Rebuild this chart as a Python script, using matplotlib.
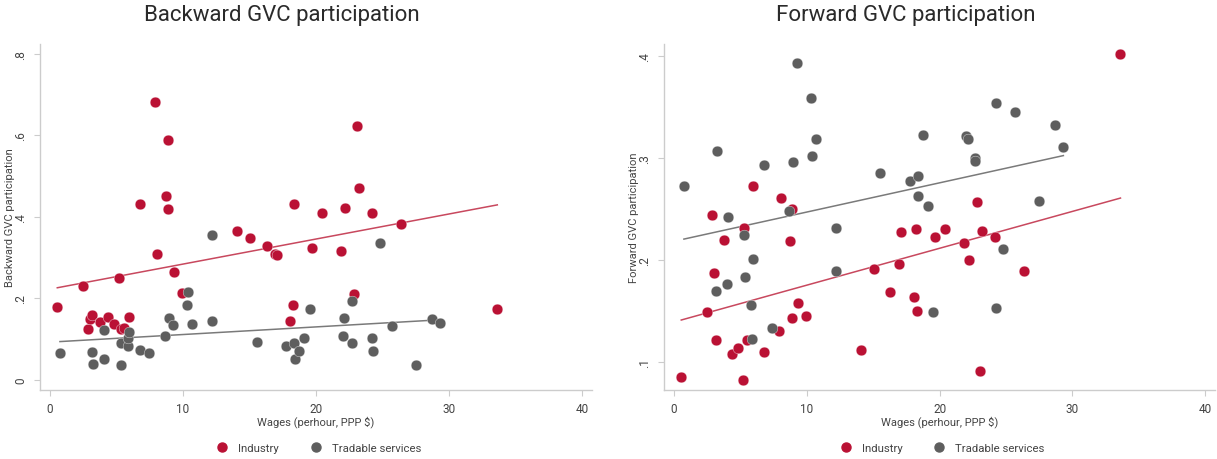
import numpy as np
import matplotlib
matplotlib.use("Agg")
import matplotlib.pyplot as plt
from matplotlib.lines import Line2D

plt.rcParams['font.family'] = ['Roboto', 'DejaVu Sans']

# wages (per hour, PPP $) - same countries in both panels
wage_ind = [0.55, 2.46, 2.88, 3.01, 3.15, 3.74, 4.38, 4.79, 5.19, 5.31, 5.53, 5.96, 6.77,
            7.9, 8.06, 8.75, 8.9, 8.9, 9.33, 9.96, 14.07, 15.04, 16.3, 16.93, 17.1, 18.08,
            18.24, 18.33, 19.68, 20.44, 21.87, 22.21, 22.85, 23.05, 23.2, 24.2, 26.39, 33.63]
wage_srv = [0.75, 3.18, 3.21, 4.03, 4.06, 5.31, 5.32, 5.83, 5.87, 5.92, 6.77, 7.42, 8.68,
            8.95, 9.27, 10.32, 10.36, 10.7, 12.18, 12.2, 15.54, 17.76, 18.37, 18.4, 18.74,
            19.11, 19.54, 22.0, 22.14, 22.71, 22.71, 24.24, 24.28, 24.82, 25.7, 27.5, 28.7, 29.33]

# backward GVC participation
bwd_ind = [0.179, 0.230, 0.125, 0.149, 0.158, 0.141, 0.155, 0.137, 0.251, 0.125, 0.127, 0.154,
           0.432, 0.681, 0.309, 0.450, 0.589, 0.419, 0.264, 0.2125, 0.366, 0.349, 0.328, 0.309,
           0.307, 0.145, 0.184, 0.431, 0.323, 0.410, 0.316, 0.422, 0.2115, 0.624, 0.471, 0.410,
           0.382, 0.173]
bwd_srv = [0.066, 0.0686, 0.039, 0.123, 0.050, 0.0907, 0.037, 0.084, 0.102, 0.118, 0.0735,
           0.0654, 0.107, 0.151, 0.1355, 0.184, 0.2164, 0.1365, 0.144, 0.355, 0.093, 0.0826,
           0.0914, 0.0507, 0.071, 0.1037, 0.1748, 0.107, 0.152, 0.1936, 0.090, 0.102, 0.071,
           0.3365, 0.132, 0.0375, 0.1495, 0.1404]

# forward GVC participation
fwd_ind = [0.0856, 0.149, 0.244, 0.187, 0.1216, 0.2196, 0.1075, 0.114, 0.0824, 0.231, 0.1219,
           0.2725, 0.1098, 0.1307, 0.2608, 0.2186, 0.2497, 0.1434, 0.1578, 0.145, 0.1118,
           0.1909, 0.1683, 0.196, 0.228, 0.164, 0.23, 0.150, 0.2225, 0.23, 0.217, 0.2, 0.2566,
           0.0915, 0.229, 0.2225, 0.189, 0.402]
fwd_srv = [0.2723, 0.1696, 0.3069, 0.1765, 0.2425, 0.2241, 0.1836, 0.1562, 0.1223, 0.2013,
           0.2934, 0.133, 0.2483, 0.2961, 0.3934, 0.3591, 0.3023, 0.3183, 0.2311, 0.1895,
           0.2856, 0.2775, 0.2824, 0.2627, 0.3228, 0.2526, 0.1487, 0.3219, 0.3186, 0.300,
           0.2968, 0.3539, 0.1532, 0.2111, 0.3448, 0.2578, 0.3326, 0.3108]

RED = '#BA1134'
GRAY = '#5E5E5E'
RED_LINE = '#C8485E'
GRAY_LINE = '#7A7A7A'
TXT = '#444444'
SPINE = '#CCCCCC'

fig = plt.figure(figsize=(12.17, 4.6), dpi=100)
W, H = 1217, 460


def panel(x0, x1, y_ind, y_srv, ylim, yticks, yticklabels, title, ylabel, title_x, ylabel_x):
    ax = fig.add_axes([x0 / W, (H - 391) / H, (x1 - x0) / W, (391 - 45) / H])
    ax.scatter(wage_ind, y_ind, s=60, color=RED, edgecolors='white', linewidths=0.25, zorder=3)
    ax.scatter(wage_srv, y_srv, s=60, color=GRAY, edgecolors='white', linewidths=0.25, zorder=3)
    for xs, ys, c in [(wage_ind, y_ind, RED_LINE), (wage_srv, y_srv, GRAY_LINE)]:
        b, a = np.polyfit(xs, ys, 1)
        xx = np.array([min(xs), max(xs)])
        ax.plot(xx, a + b * xx, color=c, lw=1.1, zorder=2)
    ax.set_xlim(-0.75, 40.75)
    ax.set_ylim(*ylim)
    ax.set_xticks([0, 10, 20, 30, 40])
    ax.set_yticks(yticks)
    ax.set_yticklabels(yticklabels, rotation=90, va='center')
    ax.tick_params(colors=SPINE, labelcolor=TXT, labelsize=8.5, length=4, width=0.8, pad=5)
    for s in ['top', 'right']:
        ax.spines[s].set_visible(False)
    for s in ['left', 'bottom']:
        ax.spines[s].set_color(SPINE)
        ax.spines[s].set_linewidth(1.0)
    ax.set_xlabel('Wages (perhour, PPP $)', fontsize=8, color=TXT, labelpad=0)
    fig.text(ylabel_x / W, 1 - 218 / H, ylabel, rotation=90, ha='center', va='center',
             fontsize=8, color=TXT)
    fig.text(title_x / W, 1 - 16 / H, title, ha='center', va='center', fontsize=16,
             color='#2A2A2A')
    handles = [Line2D([], [], marker='o', ls='', ms=6.5, color=RED, label='Industry'),
               Line2D([], [], marker='o', ls='', ms=6.5, color=GRAY, label='Tradable services')]
    leg = ax.legend(handles=handles, loc='center', bbox_to_anchor=(0.5, (449 - 391) / -346.0),
                    ncol=2, frameon=False, fontsize=8.2, handletextpad=0.4, columnspacing=2.2)
    for t in leg.get_texts():
        t.set_color(TXT)
    return ax


panel(40, 592, bwd_ind, bwd_srv, (-0.025, 0.824), [0, 0.2, 0.4, 0.6, 0.8],
      ['0', '.2', '.4', '.6', '.8'], 'Backward GVC participation', 'Backward GVC participation',
      282, 10)
panel(664, 1215, fwd_ind, fwd_srv, (0.0725, 0.412), [0.1, 0.2, 0.3, 0.4],
      ['.1', '.2', '.3', '.4'], 'Forward GVC participation', 'Forward GVC participation',
      906, 634)

fig.savefig('out.png', dpi=100)
